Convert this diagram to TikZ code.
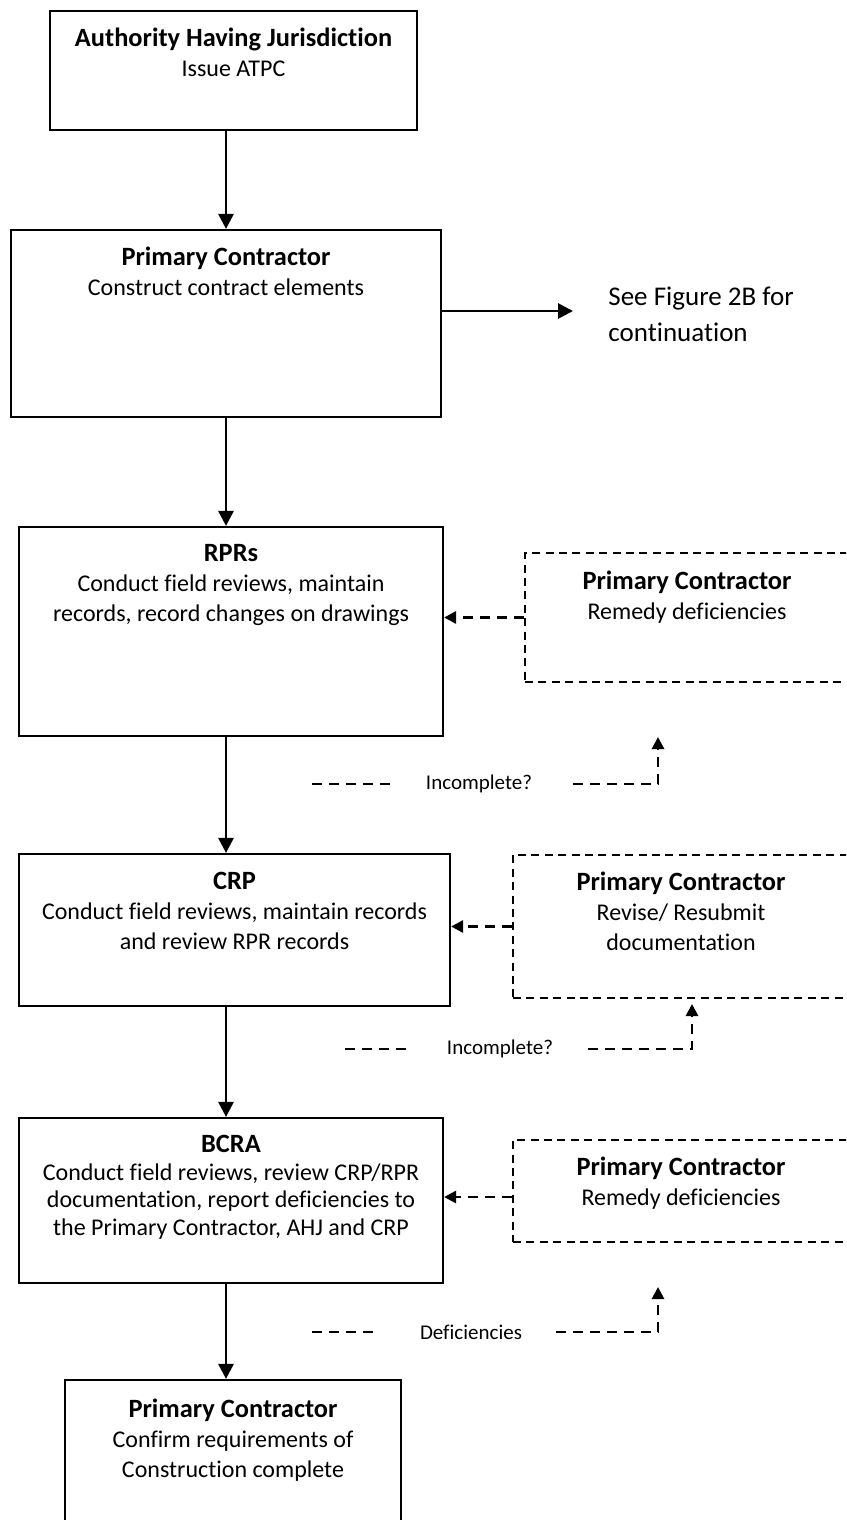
\documentclass[tikz,border=0pt]{standalone}
\usepackage{fontspec}
\setmainfont{Carlito}[Ligatures=CommonOff]
\usetikzlibrary{arrows.meta,fit}
\newcommand{\boxhead}[1]{{\fontsize{13.2}{15}\selectfont\bfseries #1}}

\begin{document}
\begin{tikzpicture}[x=0.5pt, y=-0.5pt,
box_style/.style={draw=black, line width=1.1pt, inner sep=0pt},
dash_box_style/.style={draw=black, line width=0.9pt, dash pattern=on 4pt off 2.7pt, inner sep=0pt},
text_style/.style={align=center, inner sep=0pt, anchor=north, font=\fontsize{12}{15}\selectfont},
label_style/.style={inner sep=0pt, font=\fontsize{10.5}{12}\selectfont},
edge_style/.style={draw=black, line width=1.4pt, -{Triangle[length=7.5pt, width=7.5pt]}},
dash_line_style/.style={draw=black, line width=1.4pt, dash pattern=on 5pt off 3.5pt},
dash_edge_style/.style={dash_line_style, -{Triangle[length=6pt, width=6pt]}}]
\useasboundingbox (0,0) rectangle (846,1520);
\clip (0,0) rectangle (846,1520);

% main column
\node[box_style, fit={(50,11) (417,130)}] (ahj) {};
\node[text_style] (ahj_txt) at (233.5,28) {\boxhead{Authority Having Jurisdiction}\\Issue ATPC};

\node[box_style, fit={(11,230) (441,417)}] (pc1) {};
\node[text_style] (pc1_txt) at (226,247) {\boxhead{Primary Contractor}\\Construct contract elements};

\node[box_style, fit={(19,527) (443,736)}] (rpr) {};
\node[text_style] (rpr_txt) at (231,544) {\boxhead{RPRs}\\Conduct field reviews, maintain\\records, record changes on drawings};

\node[box_style, fit={(19,854) (450,1006)}] (crp) {};
\node[text_style] (crp_txt) at (234.5,872) {\boxhead{CRP}\\Conduct field reviews, maintain records\\and review RPR records};

\node[box_style, fit={(19,1118) (443,1283)}] (bcra) {};
\node[text_style, font=\fontsize{12}{13.8}\selectfont] (bcra_txt) at (231,1135) {\boxhead{BCRA}\\Conduct field reviews, review CRP/RPR\\documentation, report deficiencies to\\the Primary Contractor, AHJ and CRP};

\node[box_style, fit={(65,1380) (401,1560)}] (fin) {};
\node[text_style] (fin_txt) at (233,1399) {\boxhead{Primary Contractor}\\Confirm requirements of\\Construction complete};

% side boxes
\node[dash_box_style, fit={(525,553) (850,682)}] (fix1) {};
\node[text_style] (fix1_txt) at (687,571) {\boxhead{Primary Contractor}\\Remedy deficiencies};

\node[dash_box_style, fit={(513,855) (850,998)}] (fix2) {};
\node[text_style] (fix2_txt) at (681,872) {\boxhead{Primary Contractor}\\Revise/ Resubmit\\documentation};

\node[dash_box_style, fit={(513,1140) (850,1242)}] (fix3) {};
\node[text_style] (fix3_txt) at (681,1157) {\boxhead{Primary Contractor}\\Remedy deficiencies};

\coordinate (cont) at (573,311);
\node[anchor=north west, align=left, inner sep=0pt, font=\fontsize{13.5}{18}\selectfont] (cont_txt) at (608,287) {See Figure 2B for\\continuation};

% flow
\draw[edge_style] (pc1.north |- ahj.south) -- (pc1.north);
\draw[edge_style] (pc1.east |- cont) -- (cont);
\draw[edge_style] (pc1.south) -- (pc1.south |- rpr.north);
\draw[edge_style] (pc1.south |- rpr.south) -- (pc1.south |- crp.north);
\draw[edge_style] (pc1.south |- crp.south) -- (pc1.south |- bcra.north);
\draw[edge_style] (pc1.south |- bcra.south) -- (pc1.south |- fin.north);

% returns
\draw[dash_edge_style] (fix1.west) -- (fix1.west -| rpr.east);
\draw[dash_edge_style] (fix2.west) -- (fix2.west -| crp.east);
\draw[dash_edge_style] ([yshift=-3pt]fix3.west) -- ([yshift=-3pt]fix3.west -| bcra.east);

\coordinate (inc1_a) at (312,784);
\coordinate (inc1_b) at (395,784);
\node[label_style] (inc1) at (479,784) {Incomplete?};
\coordinate (inc1_c) at (573,784);
\coordinate (inc1_d) at (658,784);
\coordinate (inc1_e) at (658,737);
\draw[dash_line_style] (inc1_a) -- (inc1_b);
\draw[dash_edge_style] (inc1_c) -- (inc1_d) -- (inc1_e);

\coordinate (inc2_a) at (345,1049);
\coordinate (inc2_b) at (412,1049);
\node[label_style] (inc2) at (500,1049) {Incomplete?};
\coordinate (inc2_c) at (588,1049);
\coordinate (inc2_d) at (692,1049);
\coordinate (inc2_e) at (692,1004);
\draw[dash_line_style] (inc2_a) -- (inc2_b);
\draw[dash_edge_style] (inc2_c) -- (inc2_d) -- (inc2_e);

\coordinate (def_a) at (312,1332);
\coordinate (def_b) at (378,1332);
\node[label_style] (def) at (471,1332) {Deficiencies};
\coordinate (def_c) at (556,1332);
\coordinate (def_d) at (658,1332);
\coordinate (def_e) at (658,1287);
\draw[dash_line_style] (def_a) -- (def_b);
\draw[dash_edge_style] (def_c) -- (def_d) -- (def_e);

\end{tikzpicture}
\end{document}
